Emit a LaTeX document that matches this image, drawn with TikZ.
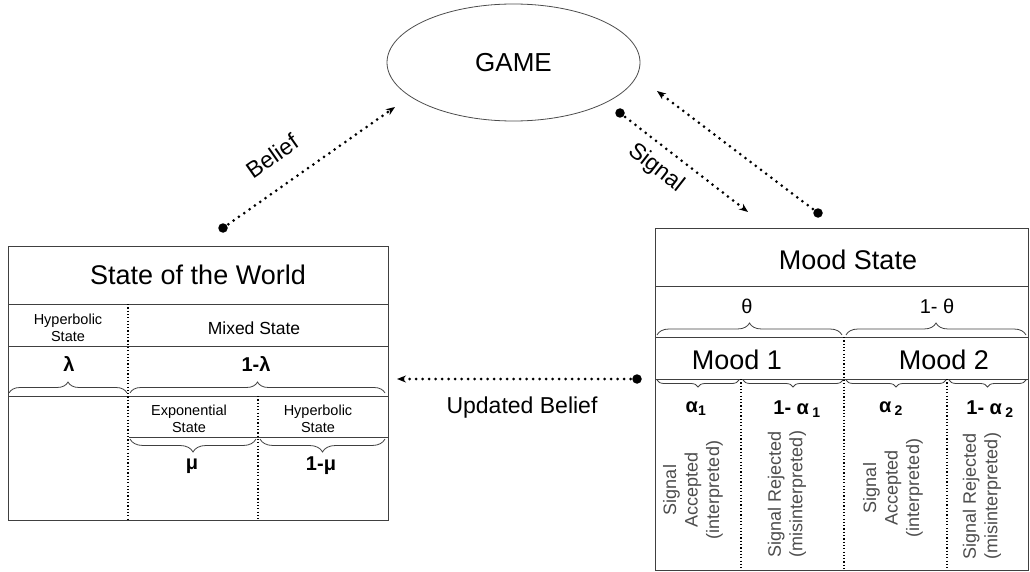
\documentclass[tikz,border=0pt]{standalone}
\usepackage{fontspec}
\setmainfont{Liberation Sans}
\usetikzlibrary{decorations.pathreplacing,arrows.meta,shapes.geometric}
\begin{document}
\begin{tikzpicture}[x=1pt,y=-1pt,
  boxline/.style={draw=black!75, line width=0.9pt},
  vdots/.style={draw=black, line width=1.5pt, dash pattern=on 1.2pt off 2.1pt},
  flow/.style={draw=black, line width=3pt, line cap=round, dash pattern=on 0pt off 6.5pt, -{Stealth[length=9pt,width=7pt]}},
  blob/.style={circle, fill=black, inner sep=0pt, minimum size=9.5pt},
  bracestyle/.style={draw=black!75, line width=0.8pt, decorate, decoration={brace, amplitude=#1}},
  ttl/.style={font=\fontsize{27}{30}\selectfont},
  small/.style={font=\fontsize{14.5}{17.5}\selectfont, align=center},
  mid/.style={font=\fontsize{17.5}{20}\selectfont},
  sym/.style={font=\fontsize{20}{22}\selectfont\bfseries},
  symr/.style={font=\fontsize{20}{22}\selectfont},
  lbl/.style={font=\fontsize{23}{26}\selectfont},
  vert/.style={font=\fontsize{18}{21.5}\selectfont, text=black!70, align=center, rotate=90},
]
\useasboundingbox (0,0) rectangle (1030,572);

% ---------- GAME ----------
\node[ellipse, draw=black!70, line width=0.8pt, minimum width=253pt, minimum height=117pt, inner sep=0pt, font=\fontsize{26}{28}\selectfont] (game) at (513.5,62.5) {GAME};

% ---------- State of the World ----------
\node[boxline, minimum width=380pt, minimum height=274pt, inner sep=0pt] (world) at (198,383) {};
\draw[boxline] (8,304) -- (388,304);
\draw[boxline] (8,346) -- (388,346);
\draw[boxline] (8,396) -- (388,396);
\draw[boxline] (129,437) -- (388,437);
\draw[vdots] (128,304) -- (128,520);
\draw[vdots] (258,396) -- (258,520);

\node[ttl] (wtitle) at (198,275) {State of the World};
\node[small] (whyp) at (68,328) {Hyperbolic\\State};
\node[mid] (wmix) at (254,328) {Mixed State};
\node[sym] (wlam) at (69,364) {λ};
\node[sym] (wlam2) at (256,364) {1-λ};
\draw[bracestyle=11pt] (9,393) -- (127,393);
\draw[bracestyle=11pt] (130,393) -- (385,393);
\node[small] (wexp) at (189,419) {Exponential\\State};
\node[small] (whyp2) at (318,419) {Hyperbolic\\State};
\draw[bracestyle=13pt] (256,439) -- (130,439);
\draw[bracestyle=13pt] (385,439) -- (260,439);
\node[sym] (wmu) at (192,466) {μ};
\node[sym] (wmu2) at (321,466) {1-μ};

% ---------- Mood State ----------
\node[boxline, minimum width=373pt, minimum height=342pt, inner sep=0pt] (mood) at (841.5,399) {};
\draw[boxline] (655,286) -- (1028,286);
\draw[boxline] (655,337) -- (1028,337);
\draw[boxline] (655,379) -- (1028,379);
\draw[vdots] (844,337) -- (844,570);
\draw[vdots] (741,379) -- (741,570);
\draw[vdots] (947,379) -- (947,570);

\node[ttl] (mtitle) at (848,260) {Mood State};
\node[symr] (mth) at (747,306) {θ};
\node[symr] (mth2) at (937,306) {1- θ};
\draw[bracestyle=12pt] (657,335) -- (842,335);
\draw[bracestyle=12pt] (846,335) -- (1026,335);
\node[ttl] (m1) at (737,360) {Mood 1};
\node[ttl] (m2) at (944,360) {Mood 2};
\draw[bracestyle=7pt] (739,380) -- (657,380);
\draw[bracestyle=7pt] (843,380) -- (743,380);
\draw[bracestyle=7pt] (946,380) -- (846,380);
\draw[bracestyle=7pt] (1026,380) -- (949,380);
\node[sym] (a1) at (696,409) {α\textsubscript{1}};
\node[sym] (a1c) at (797,409) {1- α\,\textsubscript{1}};
\node[sym] (a2) at (891,409) {α\,\textsubscript{2}};
\node[sym] (a2c) at (990,409) {1- α\,\textsubscript{2}};
\node[vert] (acc1) at (693,490) {Signal\\Accepted\\(interpreted)};
\node[vert] (rej1) at (787,494) {Signal Rejected\\(misinterpreted)};
\node[vert] (acc2) at (893,488) {Signal\\Accepted\\(interpreted)};
\node[vert] (rej2) at (982,496) {Signal Rejected\\(misinterpreted)};

% ---------- connectors ----------
\node[blob] (bdot) at (223,228) {};
\coordinate (btip) at (395,107);
\draw[flow] (bdot.center) -- (btip);
\node[lbl, rotate=35] (blab) at (272,156) {Belief};

\node[blob] (sdot) at (620,113) {};
\coordinate (stip) at (748,212);
\draw[flow] (sdot.center) -- (stip);
\node[lbl, rotate=-38] (slab) at (656,168) {Signal};

\node[blob] (mdot) at (818,213) {};
\coordinate (mtip) at (657,91);
\draw[flow] (mdot.center) -- (mtip);

\node[blob] (udot) at (637,379) {};
\coordinate (utip) at (397,379);
\draw[flow] (udot.center) -- (utip);
\node[lbl] (ulab) at (522,408) {Updated Belief};
\end{tikzpicture}
\end{document}
